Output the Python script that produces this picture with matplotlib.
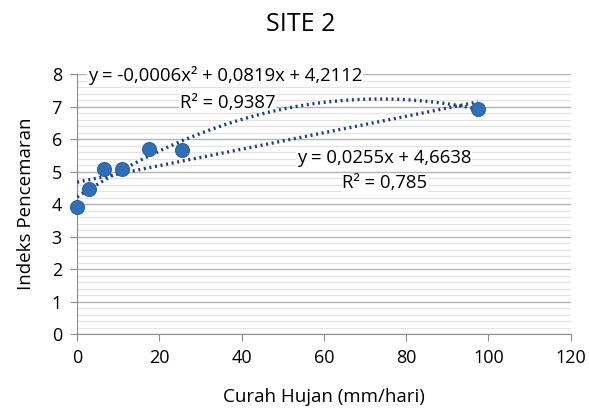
import numpy as np
import matplotlib.pyplot as plt
from matplotlib.ticker import MultipleLocator

plt.rcParams['font.family'] = ['Open Sans', 'DejaVu Sans']

# data
curah_hujan = [0, 2.9, 6.6, 10.9, 17.5, 25.5, 97.4]
indeks = [3.91, 4.46, 5.08, 5.07, 5.69, 5.66, 6.93]

# trendlines fitted like Excel does (equations printed as labels)
poly_coef = np.polyfit(curah_hujan, indeks, 2)
lin_coef = np.polyfit(curah_hujan, indeks, 1)

fig = plt.figure(figsize=(5.89, 4.09), dpi=100)
ax = fig.add_axes([0.131, 0.183, 0.838, 0.636])

ax.set_xlim(0, 120)
ax.set_ylim(0, 8)
ax.xaxis.set_major_locator(MultipleLocator(20))
ax.yaxis.set_major_locator(MultipleLocator(1))
ax.yaxis.set_minor_locator(MultipleLocator(0.2))
ax.grid(axis='y', which='major', color='#b4b4b4', lw=1.0, zorder=0)
ax.grid(axis='y', which='minor', color='#e3e3e3', lw=0.9, zorder=0)
ax.set_axisbelow(True)

for s in ['top', 'right']:
    ax.spines[s].set_visible(False)
for s in ['left', 'bottom']:
    ax.spines[s].set_color('#8c8c8c')
ax.tick_params(which='major', color='#8c8c8c', length=5, labelsize=13, pad=6)
ax.tick_params(which='minor', length=0)

xs = np.linspace(min(curah_hujan), max(curah_hujan), 200)
ax.plot(xs, np.polyval(poly_coef, xs), ls=(0, (0.6, 1.1)), color='#1f3d7a', lw=2.4, zorder=3)
ax.plot(xs, np.polyval(lin_coef, xs), ls=(0, (0.6, 1.1)), color='#1f3d7a', lw=2.4, zorder=3)

ax.scatter(curah_hujan, indeks, s=100, color='#2e6fb5', edgecolor='#2a62a6', lw=0.8, zorder=4, clip_on=False)

box = dict(facecolor='white', edgecolor='none', pad=0.5)
ax.text(2.6, 7.95, 'y = -0,0006x² + 0,0819x + 4,2112', fontsize=13.3, va='center', ha='left', bbox=box, zorder=2)
ax.text(25, 7.12, 'R² = 0,9387', fontsize=13.3, va='center', ha='left', bbox=box, zorder=2)
ax.text(53.5, 5.42, 'y = 0,0255x + 4,6638', fontsize=13.3, va='center', ha='left', bbox=box, zorder=2)
ax.text(64.5, 4.64, 'R² = 0,785', fontsize=13.3, va='center', ha='left', bbox=box, zorder=2)

ax.set_xlabel('Curah Hujan (mm/hari)', fontsize=13.5, labelpad=15)
ax.set_ylabel('Indeks Pencemaran', fontsize=13.5, labelpad=12)
fig.text(0.51, 0.94, 'SITE 2', fontsize=18, ha='center', va='center')

fig.savefig('out.png', dpi=100)
